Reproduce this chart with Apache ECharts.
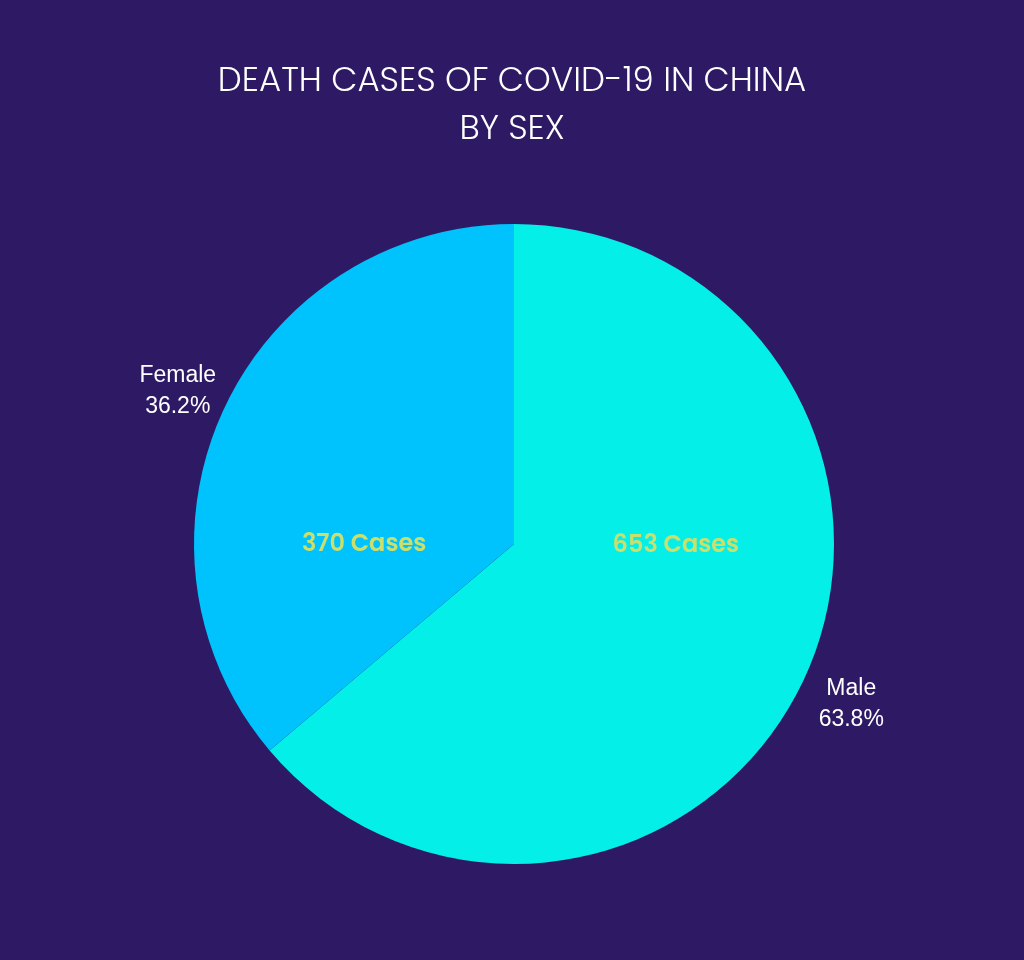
<!DOCTYPE html>
<html><head><meta charset="utf-8">
<script src="https://cdn.jsdelivr.net/npm/echarts@6/dist/echarts.min.js"></script>
<style>html,body{margin:0;padding:0;background:#2e1a64;}#c{width:1024px;height:960px;}</style>
</head><body><div id="c"></div>
<script>
const categories = ['Male', 'Female'];
const cases = [653, 370];
const percents = ['63.8%', '36.2%'];
const colors = ['#05efe9', '#00c2fd'];
const innerShift = [[14, -67], [-2, 70]];
const outerShift = [[-2, 3], [3, 5]];

const chart = echarts.init(document.getElementById('c'));
chart.setOption({
  backgroundColor: '#2e1a64',
  title: {
    text: 'DEATH CASES OF COVID-19 IN CHINA\nBY SEX',
    left: 'center', top: 53,
    textStyle: { color: '#ffffff', fontFamily: 'Poppins, "Open Sans", sans-serif', fontWeight: 300, fontSize: 34, lineHeight: 48 }
  },
  series: [
    {
      type: 'pie', center: [514, 544], radius: [0, 320], startAngle: 90, clockwise: true,
      silent: true, animation: false,
      data: categories.map((c, i) => ({ name: c, value: cases[i], itemStyle: { color: colors[i] } })),
      label: {
        position: 'inside', formatter: p => p.value + ' Cases',
        color: '#cbe06c', fontFamily: 'Poppins, "Open Sans", sans-serif', fontWeight: 600, fontSize: 24
      },
      labelLayout: p => ({ dx: innerShift[p.dataIndex][0], dy: innerShift[p.dataIndex][1] }),
      labelLine: { show: false }
    },
    {
      type: 'pie', center: [514, 544], radius: [320, 422], startAngle: 90, clockwise: true,
      silent: true, animation: false,
      data: categories.map((c, i) => ({ name: c, value: cases[i], itemStyle: { color: 'transparent' } })),
      label: {
        position: 'inside', formatter: p => p.name + '\n' + percents[p.dataIndex],
        color: '#ffffff', fontFamily: '"Liberation Sans", Arial, sans-serif', fontSize: 23, lineHeight: 31
      },
      labelLayout: p => ({ dx: outerShift[p.dataIndex][0], dy: outerShift[p.dataIndex][1] }),
      labelLine: { show: false }
    }
  ]
});
</script></body></html>
